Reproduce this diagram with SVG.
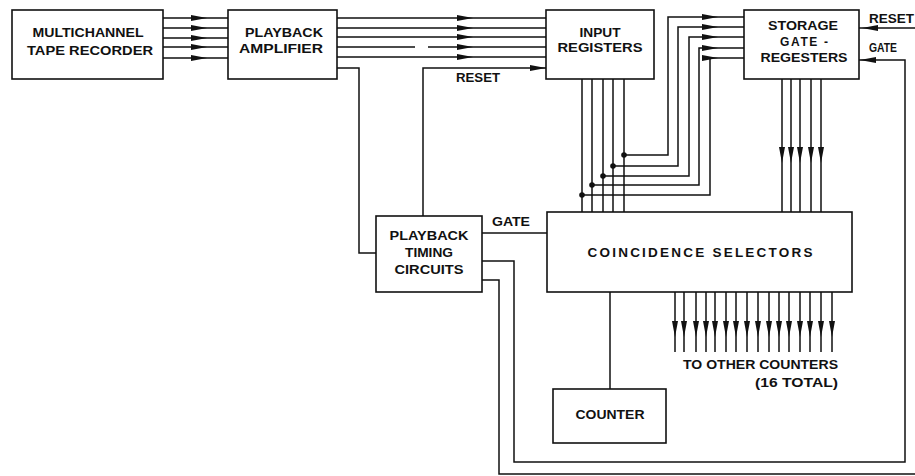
<svg xmlns="http://www.w3.org/2000/svg" xmlns:xlink="http://www.w3.org/1999/xlink" width="915" height="476" viewBox="0 0 915 476">
<style>
.box{fill:#fff;stroke:#111;stroke-width:1.6}
.w{fill:none;stroke:#111;stroke-width:1.5}
.ah{fill:#111}
.t{font-family:"Liberation Sans",Arial,sans-serif;font-weight:bold;font-size:12px;fill:#111;text-anchor:middle}
.l{font-family:"Liberation Sans",Arial,sans-serif;font-weight:bold;font-size:12px;fill:#111}
.dot{fill:#111}
</style>
<defs>
<path id="ah" d="M0,0 L-16,-3 L-16,3 Z"/>
</defs>
<rect width="915" height="476" fill="#fff"/>

<g id="connectors">
  <!-- recorder to amplifier -->
  <path class="w" d="M163 18H228M163 28H228M163 38H228M163 47H228M163 58H228"/>
  <g class="ah">
    <use xlink:href="#ah" href="#ah" x="207" y="18"/>
    <use xlink:href="#ah" href="#ah" x="207" y="28"/>
    <use xlink:href="#ah" href="#ah" x="207" y="38"/>
    <use xlink:href="#ah" href="#ah" x="207" y="47"/>
    <use xlink:href="#ah" href="#ah" x="207" y="58"/>
  </g>
  <!-- amplifier to input registers -->
  <path class="w" d="M337 18H546M337 28H546M337 37H546M337 47H415M428 47H546M337 57H546"/>
  <g class="ah">
    <use xlink:href="#ah" href="#ah" x="473" y="18"/>
    <use xlink:href="#ah" href="#ah" x="473" y="28"/>
    <use xlink:href="#ah" href="#ah" x="473" y="37"/>
    <use xlink:href="#ah" href="#ah" x="473" y="47"/>
    <use xlink:href="#ah" href="#ah" x="473" y="57"/>
  </g>
  <!-- amplifier to timing -->
  <path class="w" d="M337 68H359V253H376"/>
  <!-- timing reset to input registers -->
  <path class="w" d="M423 216V68H546"/>
  <use class="ah" xlink:href="#ah" href="#ah" x="546" y="68"/>
  <!-- timing gate to coincidence -->
  <path class="w" d="M482 233H547"/>
  <!-- timing to storage gate -->
  <path class="w" d="M482 261H514V462H905V60H859"/>
  <use class="ah" xlink:href="#ah" href="#ah" transform="translate(860 60) rotate(180)"/>
  <!-- timing lower output -->
  <path class="w" d="M482 280H499V474H915"/>
  <!-- storage reset -->
  <path class="w" d="M915 28H859"/>
  <use class="ah" xlink:href="#ah" href="#ah" transform="translate(862 28) rotate(180)"/>
  <!-- input registers to coincidence -->
  <path class="w" d="M582 79V212M592 79V212M603 79V212M613 79V212M624 79V212"/>
  <!-- taps to storage -->
  <path class="w" d="M624 155H668V17H744M613 166H678V27H744M603 176H689V37H744M592 185H699V48H744M582 195H710V58H744"/>
  <g class="ah">
    <use xlink:href="#ah" href="#ah" x="718" y="17"/>
    <use xlink:href="#ah" href="#ah" x="718" y="27"/>
    <use xlink:href="#ah" href="#ah" x="718" y="37"/>
    <use xlink:href="#ah" href="#ah" x="718" y="48"/>
    <use xlink:href="#ah" href="#ah" x="718" y="58"/>
  </g>
  <g class="dot">
    <circle cx="624" cy="155" r="2.8"/>
    <circle cx="613" cy="166" r="2.8"/>
    <circle cx="603" cy="176" r="2.8"/>
    <circle cx="592" cy="185" r="2.8"/>
    <circle cx="582" cy="195" r="2.8"/>
  </g>
  <!-- storage to coincidence -->
  <path class="w" d="M782 79V212M791 79V212M800 79V212M811 79V212M821 79V212"/>
  <g class="ah">
    <use xlink:href="#ah" href="#ah" transform="translate(782 163) rotate(90)"/>
    <use xlink:href="#ah" href="#ah" transform="translate(791 163) rotate(90)"/>
    <use xlink:href="#ah" href="#ah" transform="translate(800 163) rotate(90)"/>
    <use xlink:href="#ah" href="#ah" transform="translate(811 163) rotate(90)"/>
    <use xlink:href="#ah" href="#ah" transform="translate(821 163) rotate(90)"/>
  </g>
  <!-- coincidence to counter -->
  <path class="w" d="M610 292V389"/>
  <!-- outputs to other counters -->
  <path class="w" d="M675 292V352M684 292V352M696 292V352M706 292V352M715 292V352M726 292V352M736 292V352M747 292V352M758 292V352M769 292V352M779 292V352M789 292V352M800 292V352M810 292V352M821 292V352M832 292V352"/>
  <g class="ah">
    <use xlink:href="#ah" href="#ah" transform="translate(675 337) rotate(90)"/>
    <use xlink:href="#ah" href="#ah" transform="translate(684 337) rotate(90)"/>
    <use xlink:href="#ah" href="#ah" transform="translate(696 337) rotate(90)"/>
    <use xlink:href="#ah" href="#ah" transform="translate(706 337) rotate(90)"/>
    <use xlink:href="#ah" href="#ah" transform="translate(715 337) rotate(90)"/>
    <use xlink:href="#ah" href="#ah" transform="translate(726 337) rotate(90)"/>
    <use xlink:href="#ah" href="#ah" transform="translate(736 337) rotate(90)"/>
    <use xlink:href="#ah" href="#ah" transform="translate(747 337) rotate(90)"/>
    <use xlink:href="#ah" href="#ah" transform="translate(758 337) rotate(90)"/>
    <use xlink:href="#ah" href="#ah" transform="translate(769 337) rotate(90)"/>
    <use xlink:href="#ah" href="#ah" transform="translate(779 337) rotate(90)"/>
    <use xlink:href="#ah" href="#ah" transform="translate(789 337) rotate(90)"/>
    <use xlink:href="#ah" href="#ah" transform="translate(800 337) rotate(90)"/>
    <use xlink:href="#ah" href="#ah" transform="translate(810 337) rotate(90)"/>
    <use xlink:href="#ah" href="#ah" transform="translate(821 337) rotate(90)"/>
    <use xlink:href="#ah" href="#ah" transform="translate(832 337) rotate(90)"/>
  </g>
  <!-- connector labels -->
  <text class="l" x="456" y="82" textLength="44" lengthAdjust="spacingAndGlyphs">RESET</text>
  <text class="l" x="492" y="226" textLength="38" lengthAdjust="spacingAndGlyphs">GATE</text>
  <text class="l" x="869" y="23" textLength="45" lengthAdjust="spacingAndGlyphs">RESET</text>
  <text class="l" x="869" y="52" textLength="28" lengthAdjust="spacingAndGlyphs">GATE</text>
  <text class="l" x="683" y="369" textLength="155" lengthAdjust="spacingAndGlyphs">TO OTHER COUNTERS</text>
  <text class="l" x="755" y="387" textLength="83" lengthAdjust="spacingAndGlyphs">(16 TOTAL)</text>
</g>

<g id="recorder">
  <rect class="box" x="12" y="10" width="151" height="69"/>
  <text class="t" x="88" y="37" textLength="111" lengthAdjust="spacingAndGlyphs">MULTICHANNEL</text>
  <text class="t" x="90" y="55" textLength="126" lengthAdjust="spacingAndGlyphs">TAPE RECORDER</text>
</g>
<g id="amplifier">
  <rect class="box" x="228" y="10" width="109" height="69"/>
  <text class="t" x="284" y="37" textLength="78" lengthAdjust="spacingAndGlyphs">PLAYBACK</text>
  <text class="t" x="281" y="53" textLength="84" lengthAdjust="spacingAndGlyphs">AMPLIFIER</text>
</g>
<g id="input-registers">
  <rect class="box" x="546" y="10" width="108" height="69"/>
  <text class="t" x="600" y="37" textLength="41" lengthAdjust="spacingAndGlyphs">INPUT</text>
  <text class="t" x="600" y="52" textLength="85" lengthAdjust="spacingAndGlyphs">REGISTERS</text>
</g>
<g id="storage">
  <rect class="box" x="744" y="10" width="115" height="69"/>
  <text class="t" x="803" y="30" textLength="70" lengthAdjust="spacingAndGlyphs">STORAGE</text>
  <text class="t" x="804" y="46" textLength="48" lengthAdjust="spacing">GATE -</text>
  <text class="t" x="804" y="62" textLength="87" lengthAdjust="spacingAndGlyphs">REGESTERS</text>
</g>
<g id="timing">
  <rect class="box" x="376" y="216" width="106" height="76"/>
  <text class="t" x="429" y="240" textLength="79" lengthAdjust="spacingAndGlyphs">PLAYBACK</text>
  <text class="t" x="429" y="257" textLength="48" lengthAdjust="spacingAndGlyphs">TIMING</text>
  <text class="t" x="429" y="274" textLength="69" lengthAdjust="spacingAndGlyphs">CIRCUITS</text>
</g>
<g id="coincidence">
  <rect class="box" x="547" y="212" width="305" height="80"/>
  <text class="t" x="700" y="257" style="font-size:13.5px" textLength="225" lengthAdjust="spacing">COINCIDENCE SELECTORS</text>
</g>
<g id="counter">
  <rect class="box" x="553" y="389" width="113" height="54"/>
  <text class="t" x="610" y="419" textLength="69" lengthAdjust="spacingAndGlyphs">COUNTER</text>
</g>
</svg>
